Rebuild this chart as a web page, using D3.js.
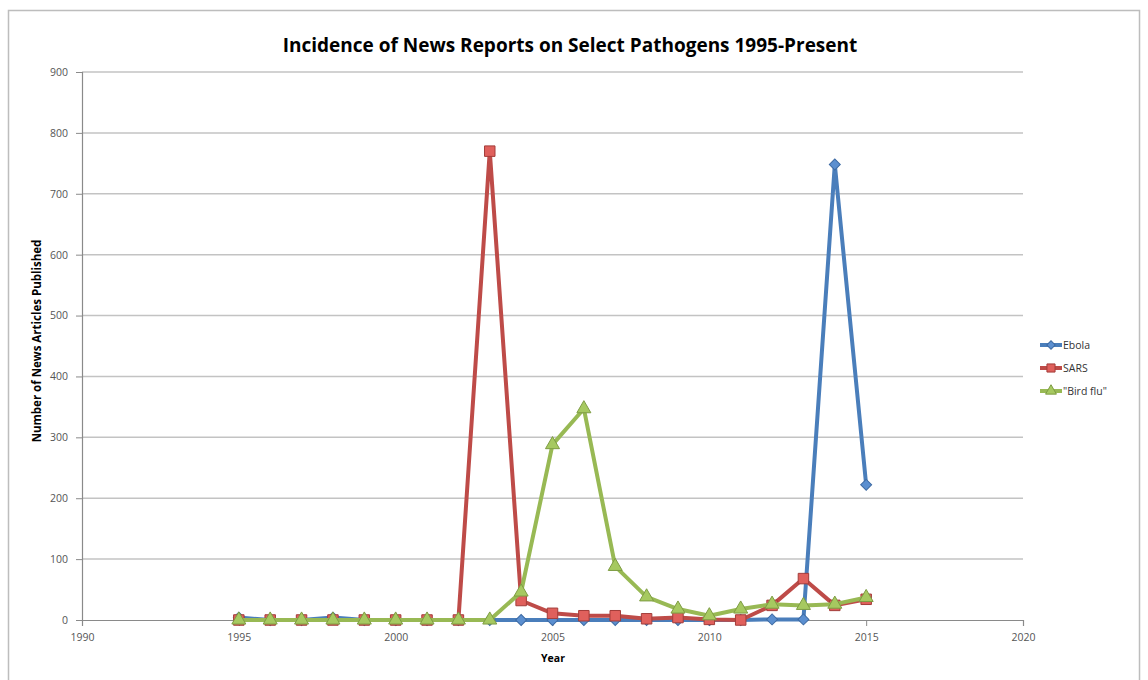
<!DOCTYPE html>
<html>
<head>
<meta charset="utf-8">
<script src="https://cdn.jsdelivr.net/npm/d3@7"></script>
<style>
  html, body { margin: 0; padding: 0; background: #fff; }
  svg { display: block; font-family: "Open Sans", "Liberation Sans", sans-serif; }
</style>
</head>
<body>
<svg id="chart" width="1148" height="680"></svg>
<script>
// Yearly counts of news articles per pathogen
const years   = [1995,1996,1997,1998,1999,2000,2001,2002,2003,2004,2005,2006,2007,2008,2009,2010,2011,2012,2013,2014,2015];
const ebola   = [4,0,0,4,0,0,0,0,0,0,0,0,0,0,0,0,0,1,1,748,222];
const sars    = [0,0,0,0,0,0,0,0,770,32,11,7,7,2,4,1,0,24,68,24,34];
const birdFlu = [0,0,0,0,0,0,0,0,0,46,288,347,88,38,18,7,18,26,24,26,37];

const seriesNames = ["Ebola", "SARS", "\"Bird flu\""];
const yTicks = [0,100,200,300,400,500,600,700,800,900];
const xTicks = [1990,1995,2000,2005,2010,2015,2020];

const svg = d3.select("#chart");

// outer frame
svg.append("rect")
  .attr("x", 8.5).attr("y", 10.5)
  .attr("width", 1131).attr("height", 690)
  .attr("fill", "#fff")
  .attr("stroke", "#bdbdbd").attr("stroke-width", 1.5);

const plot = { left: 82, right: 1023, top: 72, bottom: 620 };

const x = d3.scaleLinear().domain([1990, 2020]).range([plot.left, plot.right]);
const y = d3.scaleLinear().domain([0, 900]).range([plot.bottom, plot.top]);

// title
svg.append("text")
  .attr("x", 570).attr("y", 52)
  .attr("text-anchor", "middle")
  .attr("font-size", 19).attr("font-weight", "bold")
  .attr("fill", "#000")
  .text("Incidence of News Reports on Select Pathogens 1995-Present");

// horizontal gridlines
svg.append("g")
  .selectAll("line")
  .data(yTicks.filter(d => d > 0))
  .join("line")
  .attr("x1", plot.left).attr("x2", plot.right)
  .attr("y1", d => y(d)).attr("y2", d => y(d))
  .attr("stroke", "#c3c3c3").attr("stroke-width", 1.5);

// y axis
const yAxis = svg.append("g")
  .attr("transform", `translate(${plot.left},0)`)
  .call(d3.axisLeft(y).tickValues(yTicks).tickSize(6).tickPadding(8));
yAxis.select(".domain").attr("stroke", "#8a8a8a").attr("stroke-width", 1.2);
yAxis.selectAll(".tick line").attr("stroke", "#8a8a8a");
yAxis.selectAll(".tick text")
  .attr("font-size", 10.5).attr("fill", "#555")
  .attr("font-family", "Open Sans, sans-serif");

// x axis
const xAxis = svg.append("g")
  .attr("transform", `translate(0,${plot.bottom})`)
  .call(d3.axisBottom(x).tickValues(xTicks).tickFormat(d3.format("d")).tickSize(6).tickPadding(8));
xAxis.select(".domain").attr("stroke", "#8a8a8a").attr("stroke-width", 1.2);
xAxis.selectAll(".tick line").attr("stroke", "#8a8a8a");
xAxis.selectAll(".tick text")
  .attr("font-size", 10.5).attr("fill", "#555")
  .attr("font-family", "Open Sans, sans-serif");

// axis titles
svg.append("text")
  .attr("x", 553).attr("y", 662)
  .attr("text-anchor", "middle")
  .attr("font-size", 10.5).attr("font-weight", "bold")
  .text("Year");

svg.append("text")
  .attr("transform", "translate(41,341) rotate(-90)")
  .attr("text-anchor", "middle")
  .attr("font-size", 11.5).attr("font-weight", "bold")
  .text("Number of News Articles Published");

// series definitions
const series = [
  { name: seriesNames[0], values: ebola,   line: "#4a7ebb", fill: "#5b8fd0", stroke: "#3d6aa3", symbol: d3.symbolSquare,   size: 60, rotate: 45 },
  { name: seriesNames[1], values: sars,    line: "#be4b48", fill: "#e0605c", stroke: "#a33d3a", symbol: d3.symbolSquare,   size: 110, rotate: 0 },
  { name: seriesNames[2], values: birdFlu, line: "#98b954", fill: "#a6c960", stroke: "#7e9c43", symbol: d3.symbolTriangle, size: 85, rotate: 0 }
];

const line = d3.line()
  .x((d, i) => x(years[i]))
  .y(d => y(d));

series.forEach(s => {
  const g = svg.append("g");
  g.append("path")
    .datum(s.values)
    .attr("d", line)
    .attr("fill", "none")
    .attr("stroke", s.line)
    .attr("stroke-width", 4)
    .attr("stroke-linejoin", "round");
  g.selectAll("path.mark")
    .data(s.values)
    .join("path")
    .attr("class", "mark")
    .attr("transform", (d, i) => `translate(${x(years[i])},${y(d)}) rotate(${s.rotate})`)
    .attr("d", d3.symbol().type(s.symbol).size(s.size))
    .attr("fill", s.fill)
    .attr("stroke", s.stroke)
    .attr("stroke-width", 1);
});

// legend
const legend = svg.append("g");
series.forEach((s, i) => {
  const ly = 345 + i * 23;
  legend.append("line")
    .attr("x1", 1040).attr("x2", 1062)
    .attr("y1", ly).attr("y2", ly)
    .attr("stroke", s.line).attr("stroke-width", 4);
  legend.append("path")
    .attr("transform", `translate(1051,${ly}) rotate(${s.rotate})`)
    .attr("d", d3.symbol().type(s.symbol).size(s.size * 0.6))
    .attr("fill", s.fill).attr("stroke", s.stroke).attr("stroke-width", 1);
  legend.append("text")
    .attr("x", 1063).attr("y", ly + 3.5)
    .attr("font-size", 10.5).attr("fill", "#333")
    .text(s.name);
});
</script>
</body>
</html>
